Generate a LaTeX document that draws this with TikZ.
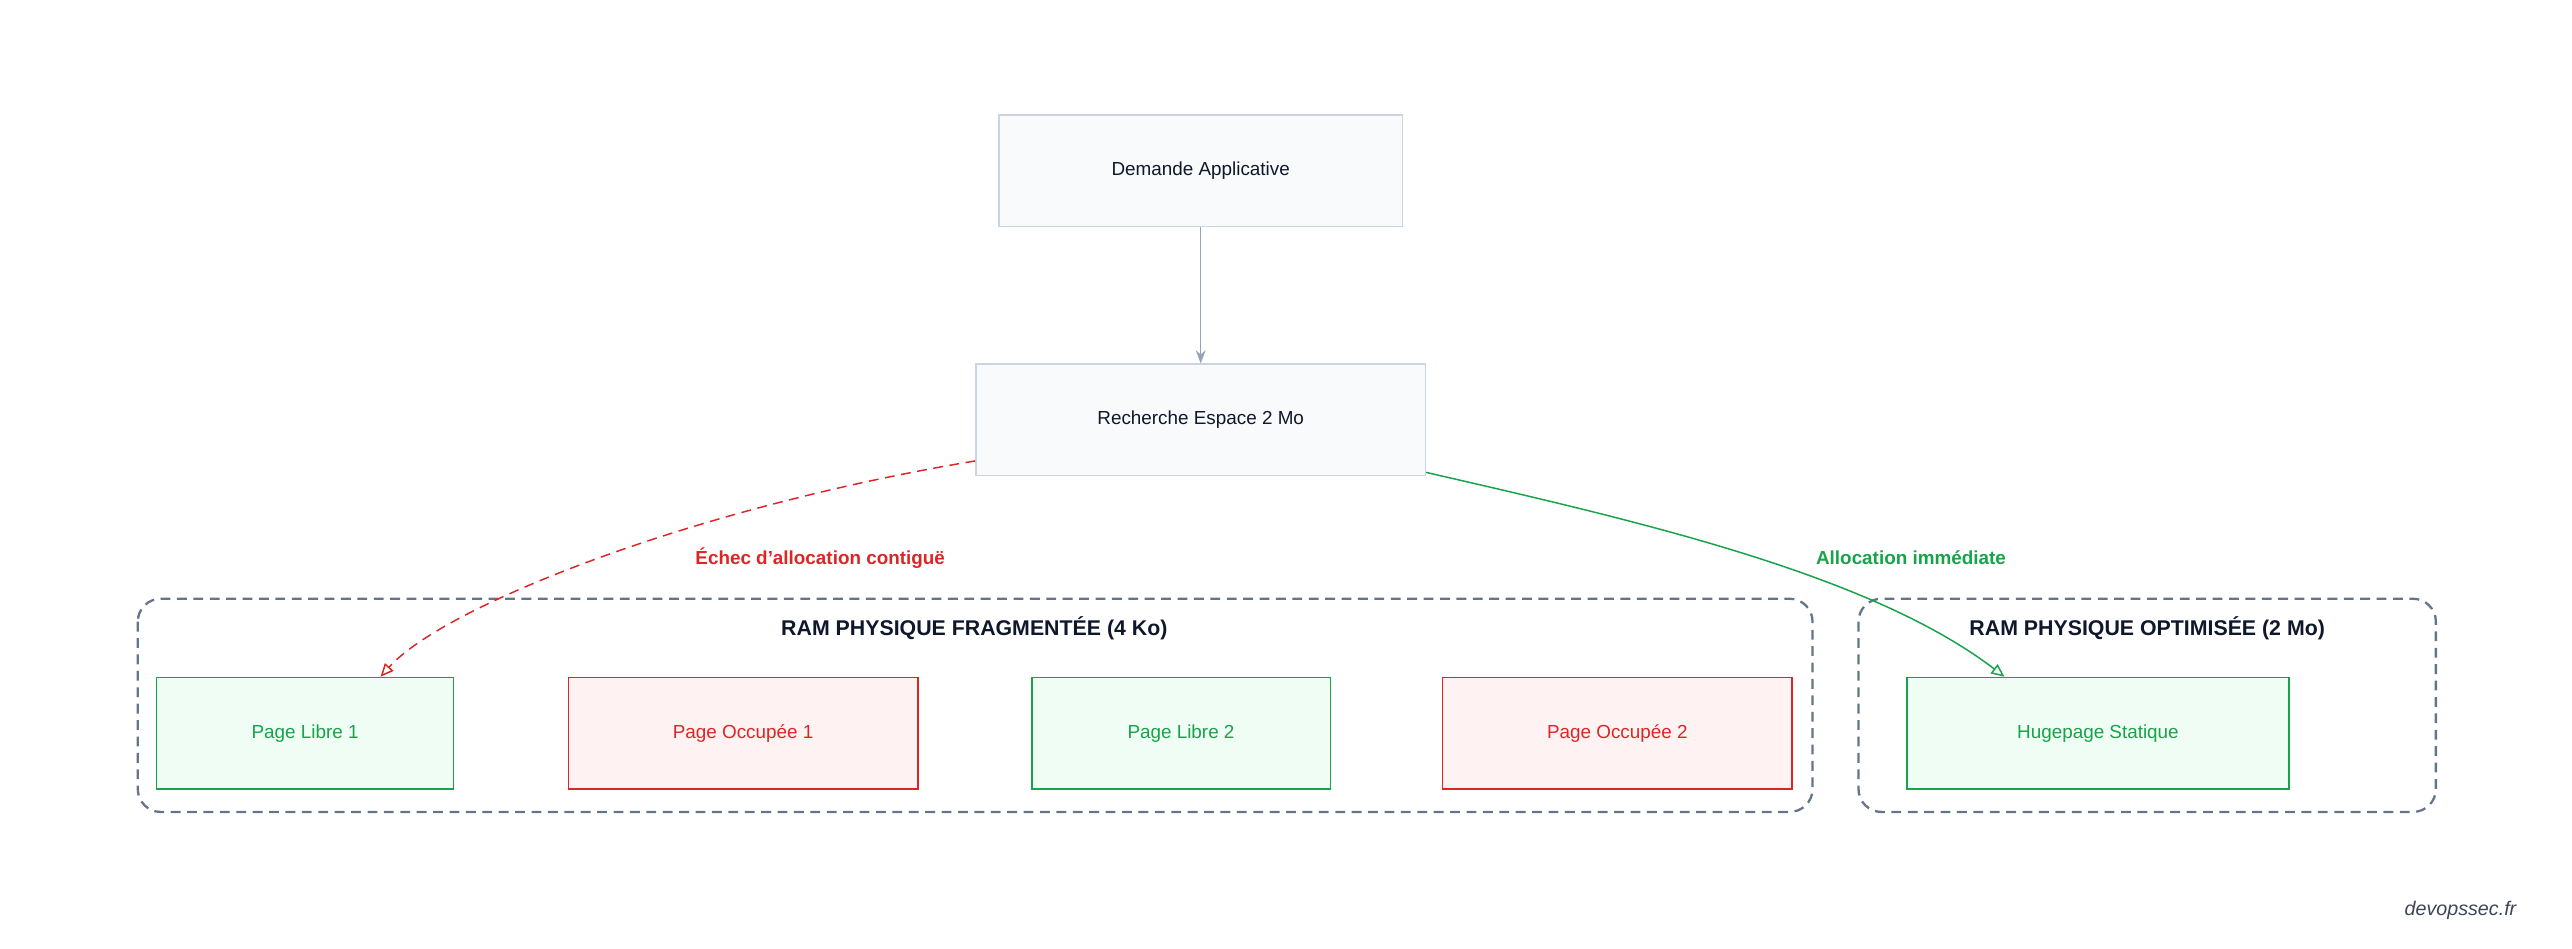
\documentclass[tikz,border=0pt]{standalone}
\usepackage{fontspec}
\setmainfont{Liberation Sans}
\usepackage{tikz}
\usetikzlibrary{positioning,arrows.meta,shapes.geometric}

\definecolor{okgreen}{HTML}{16A34A}
\definecolor{okfill}{HTML}{F0FDF4}
\definecolor{badred}{HTML}{DC2626}
\definecolor{badfill}{HTML}{FEF2F2}
\definecolor{stagefill}{HTML}{F8FAFC}
\definecolor{stagedraw}{HTML}{CBD5E1}
\definecolor{zonedraw}{HTML}{64748B}
\definecolor{ink}{HTML}{0F172A}
\definecolor{linkgray}{HTML}{94A3B8}

\begin{document}
\begin{tikzpicture}[
    x=1pt, y=-1pt,
    font=\fontsize{11.5}{14}\selectfont,
    stage/.style={rectangle, draw=stagedraw, fill=stagefill, text=ink, line width=0.9pt, minimum height=68pt, align=center},
    free/.style={rectangle, draw=okgreen, fill=okfill, text=okgreen, line width=0.9pt, minimum height=68pt},
    used/.style={rectangle, draw=badred, fill=badfill, text=badred, line width=0.9pt, minimum height=68pt},
    ramzone/.style={draw=zonedraw, line width=1.4pt, dash pattern=on 6pt off 4pt, rounded corners=14pt},
    title/.style={font=\fontsize{13}{15}\selectfont\bfseries, text=ink},
    arrow/.style={-{Stealth[length=8pt,width=6pt]}, draw=linkgray, line width=0.9pt}
]
\useasboundingbox (0,0) rectangle (1568,578);

% Nodes
\node[stage, minimum width=246pt] (demande) at (732,104) {Demande Applicative};
\node[stage, minimum width=274pt] (recherche) at (732,256) {Recherche Espace 2 Mo};

% RAM zones
\draw[ramzone] (84,365) rectangle (1105,495);
\node[title] (fragtitle) at (594,383) {RAM PHYSIQUE FRAGMENTÉE (4 Ko)};
\draw[ramzone] (1133,365) rectangle (1485,495);
\node[title] (opttitle) at (1309,383) {RAM PHYSIQUE OPTIMISÉE (2 Mo)};

\node[free, minimum width=181pt] (libre1) at (186,447) {Page Libre 1};
\node[used, minimum width=213pt] (occ1) at (453,447) {Page Occupée 1};
\node[free, minimum width=182pt] (libre2) at (720,447) {Page Libre 2};
\node[used, minimum width=213pt] (occ2) at (986,447) {Page Occupée 2};
\node[free, minimum width=233pt] (huge) at (1279,447) {Hugepage Statique};

% Arrows
\draw[arrow] (demande) -- (recherche);
\draw[badred, line width=0.9pt, dash pattern=on 6pt off 4pt, -{Triangle[open,length=8pt,width=7pt]}]
    (recherche.west |- 0,281) .. controls (420,310) and (270,370) .. (libre1.north -| 232,0);
\draw[okgreen, line width=0.9pt, -{Triangle[open,length=8pt,width=7pt]}]
    (recherche.east |- 0,288) .. controls (1000,318) and (1140,350) .. (huge.north -| 1222,0);

\node[text=badred, font=\fontsize{11.5}{14}\selectfont\bfseries] (echec) at (500,340) {Échec d'allocation contiguë};
\node[text=okgreen, font=\fontsize{11.5}{14}\selectfont\bfseries] (immediate) at (1165,340) {Allocation immédiate};

\node[text=ink!80, font=\fontsize{12}{14}\selectfont\itshape] (mark) at (1500,555) {devopssec.fr};
\end{tikzpicture}
\end{document}
